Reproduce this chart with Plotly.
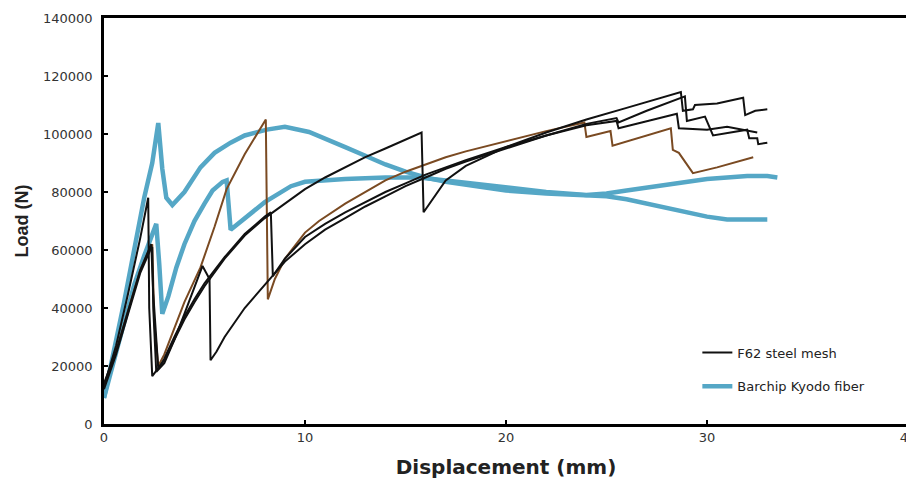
import plotly.graph_objects as go

# ---------------- data ----------------
steel1_x = [0, 0.6, 1.2, 1.8, 2.2, 2.25, 2.4, 3.0, 3.5, 4.0, 4.5, 5.0, 6.0, 7.0, 8.0, 9.0, 10.0, 11.0, 12.0,
            13.0, 14.0, 15.0, 15.8, 15.9, 16.4, 17.0, 18.0, 20.0, 22.0, 24.0, 26.0, 28.0, 28.7, 28.8, 29.3, 29.4,
            30.5, 31.8, 31.9, 32.4, 33.0]
steel1_y = [13000, 27000, 45000, 64000, 78000, 40000, 16500, 22000, 29000, 36000, 42000, 47500, 57000, 65000,
            71000, 76000, 81000, 85000, 88500, 92000, 95000, 98000, 100500, 73000, 78000, 84000, 89000, 95500,
            100500, 105000, 109000, 113000, 114500, 108000, 108500, 110000, 110500, 112500, 106500, 108000, 108500]

steel2_x = [0, 0.6, 1.2, 1.8, 2.3, 2.4, 2.45, 2.6, 3.0, 3.5, 4.0, 4.5, 4.9, 5.25, 5.3, 5.6, 6.0, 7.0, 8.0, 9.0,
            10.0, 11.0, 12.0, 13.0, 14.0, 15.0, 16.0, 17.0, 18.0, 20.0, 22.0, 24.0, 25.5, 25.6, 27.0, 28.9, 29.0,
            29.9, 30.3, 32.0, 32.1, 32.5, 32.55, 33.0]
steel2_y = [12000, 24000, 38000, 52000, 60000, 61000, 40000, 18000, 21000, 29000, 38000, 47000, 54500, 50000,
            22000, 25000, 30000, 40000, 48000, 56000, 62000, 67000, 71000, 75000, 78500, 82000, 85000, 88000,
            90500, 95000, 99500, 103500, 105500, 104000, 108000, 113000, 104500, 106000, 99500, 101500, 98500,
            98500, 96500, 97000]

steel3_x = [0, 0.6, 1.2, 1.8, 2.35, 2.45, 2.7, 3.0, 3.5, 4.0, 4.5, 5.0, 6.0, 7.0, 8.0, 8.3, 8.4, 9.0, 10.0,
            11.0, 12.0, 13.0, 14.0, 15.0, 16.0, 17.0, 18.0, 20.0, 22.0, 24.0, 25.5, 25.6, 27.0, 28.5, 28.6, 30.0,
            31.0, 32.5]
steel3_y = [14000, 25000, 39000, 53000, 62000, 45000, 19000, 22500, 30000, 37000, 43000, 48500, 57500, 65500,
            71500, 73000, 51000, 57000, 64500, 69000, 73000, 76500, 80000, 83000, 86000, 88500, 91000, 95500,
            99500, 103000, 104500, 102000, 104500, 107000, 102000, 101500, 102500, 100500]

steel4_x = [0, 0.6, 1.2, 1.8, 2.3, 2.4, 2.5, 2.7, 3.0, 3.5, 4.0, 4.8, 5.5, 6.1, 7.0, 8.05, 8.1, 8.15, 8.5, 9.0,
            10.0, 10.7, 12.0, 13.0, 14.0, 15.0, 16.0, 17.0, 18.0, 20.0, 22.0, 23.9, 24.0, 25.2, 25.3, 28.2, 28.3,
            28.6, 29.3, 30.5, 32.3]
steel4_y = [13000, 25000, 39000, 53000, 61000, 62000, 35000, 20000, 24000, 33000, 42000, 54000, 68000, 81000,
            93000, 105000, 80000, 43000, 50000, 57000, 66000, 70000, 76000, 80000, 84000, 87000, 89500, 92000,
            94000, 97500, 101000, 104000, 99000, 101000, 96000, 102000, 94500, 93500, 86500, 88500, 92000]

fiber1_x = [0, 0.5, 1.0, 1.5, 2.0, 2.4, 2.7, 2.9, 3.1, 3.4, 4.0, 4.8, 5.5, 6.3, 7.0, 8.1, 9.0, 10.2, 11.0,
            12.0, 13.0, 14.0, 15.0, 16.0, 17.0, 18.0, 19.0, 20.0, 22.0, 24.0, 25.0, 26.0, 27.0, 28.0, 29.0,
            30.0, 31.0, 32.0, 33.0]
fiber1_y = [9000, 25000, 42000, 60000, 78000, 90000, 103800, 88000, 78000, 75500, 80000, 88500, 93500, 97000,
            99500, 101500, 102500, 100700, 98500, 95500, 92500, 89500, 87000, 85000, 83500, 82500, 81500, 80500,
            79500, 79000, 78500, 77500, 76000, 74500, 73000, 71500, 70500, 70500, 70500]

fiber2_x = [0, 0.5, 1.0, 1.5, 2.0, 2.3, 2.6, 2.75, 2.9, 3.2, 3.6, 4.0, 4.5, 5.0, 5.4, 5.9, 6.1, 6.3, 7.0, 7.6,
            8.0, 9.3, 10.0, 12.0, 14.0, 15.7, 17.0, 18.0, 20.0, 22.0, 24.0, 25.0, 26.0, 27.0, 28.0, 29.0, 30.0,
            31.0, 32.0, 33.0, 33.5]
fiber2_y = [9000, 22000, 36000, 48000, 58000, 63000, 69000, 55000, 38000, 44000, 54000, 62000, 70000, 76000,
            80500, 83500, 84000, 67000, 71000, 74000, 76500, 82000, 83500, 84500, 85000, 85000, 84000, 83000,
            81500, 80000, 79000, 79500, 80500, 81500, 82500, 83500, 84500, 85000, 85500, 85500, 85000]

x_ticks = [0, 10, 20, 30, 40]
y_ticks = [0, 20000, 40000, 60000, 80000, 100000, 120000, 140000]

BLACK = "#111111"
BROWN = "#7a4a22"
BLUE = "#55a7c6"
TICKFONT = dict(family="DejaVu Sans, sans-serif", size=13, color="#333333")

fig = go.Figure()

# blue (fiber) curves drawn first, steel on top
fig.add_trace(go.Scatter(x=fiber2_x, y=fiber2_y, mode="lines", line=dict(color=BLUE, width=4.5),
                         showlegend=False, legendgroup="b", legendrank=2))
fig.add_trace(go.Scatter(x=fiber1_x, y=fiber1_y, mode="lines", line=dict(color=BLUE, width=4.5),
                         name="Barchip Kyodo fiber", showlegend=True, legendgroup="b", legendrank=2))
fig.add_trace(go.Scatter(x=steel4_x, y=steel4_y, mode="lines", line=dict(color=BROWN, width=2),
                         showlegend=False, legendgroup="a", legendrank=1))
fig.add_trace(go.Scatter(x=steel3_x, y=steel3_y, mode="lines", line=dict(color=BLACK, width=2),
                         showlegend=False, legendgroup="a", legendrank=1))
fig.add_trace(go.Scatter(x=steel2_x, y=steel2_y, mode="lines", line=dict(color=BLACK, width=2),
                         showlegend=False, legendgroup="a", legendrank=1))
fig.add_trace(go.Scatter(x=steel1_x, y=steel1_y, mode="lines", line=dict(color=BLACK, width=2),
                         name="F62 steel mesh", showlegend=True, legendgroup="a", legendrank=1))

# the page body adds an 8px offset, so the figure is 8px smaller and margins are shifted
fig.update_layout(
    width=906, height=471,
    margin=dict(l=96, r=6, t=10, b=55, autoexpand=False),
    paper_bgcolor="white", plot_bgcolor="white",
    font=dict(family="DejaVu Sans, sans-serif", color="#333333", size=12),
    legend=dict(x=0.738, y=0.213, xanchor="left", yanchor="top", bgcolor="rgba(0,0,0,0)",
                traceorder="grouped", tracegroupgap=14,
                font=dict(family="DejaVu Sans, sans-serif", size=13, color="#222222")),
)
fig.update_xaxes(range=[0, 40], tickvals=x_ticks, ticks="inside", ticklen=4, tickwidth=2, tickcolor="black",
                 showline=True, linewidth=2.5, linecolor="black", mirror=True, showgrid=False, zeroline=False,
                 automargin=False, tickfont=TICKFONT, ticklabeloverflow="allow",
                 title=dict(text="<b>Displacement (mm)</b>",
                            font=dict(family="DejaVu Sans, sans-serif", size=20, color="#222222"), standoff=16))
fig.update_yaxes(range=[0, 140000], tickvals=y_ticks, tickformat="d", ticks="inside", ticklen=4, tickwidth=2,
                 tickcolor="black", showline=True, linewidth=2.5, linecolor="black", mirror=True, showgrid=False,
                 zeroline=False, automargin=False, tickfont=TICKFONT, ticklabelstandoff=6,
                 title=dict(text="<b>Load (N)</b>",
                            font=dict(family="Liberation Sans, Arial, sans-serif", size=18, color="#222222"),
                            standoff=10))

fig.write_html("out.html")
